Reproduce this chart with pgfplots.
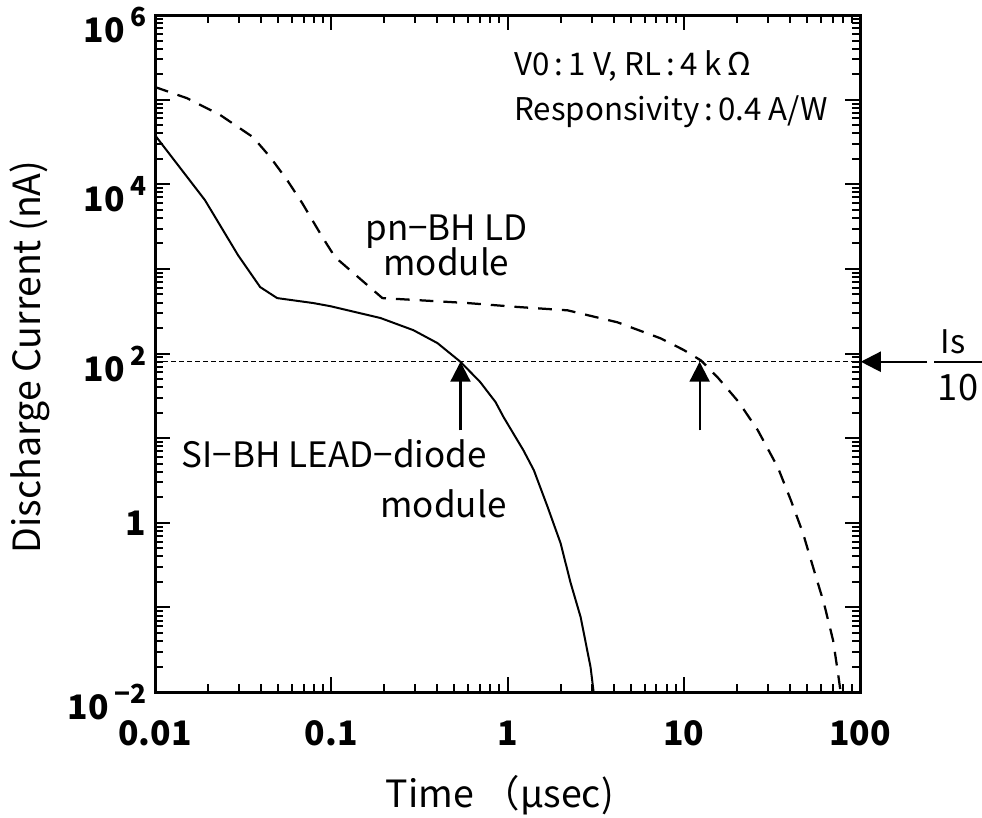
\documentclass[border=0pt]{standalone}
\usepackage{fontspec}
\setmainfont{Noto Sans CJK JP}
\usepackage{pgfplots}
\pgfplotsset{compat=1.18}
\usetikzlibrary{arrows.meta}

\newcommand\fs[1]{\fontsize{#1}{#1}\selectfont}
% power-of-ten tick label: base below the tick, exponent beside it
\newcommand\pw[1]{\smash{\raisebox{-11pt}{10\,\raisebox{6.4pt}{\fs{10.5}#1}}}}

\begin{document}
\begin{tikzpicture}
\begin{loglogaxis}[
  scale only axis,
  width=282pt, height=270.8pt,
  xmin=0.01, xmax=100, ymin=1e-2, ymax=1e6,
  xtick={0.01,0.1,1,10,100},
  xticklabels={0.01,0.1,1,10,100},
  ytick={1e-2,1e-1,1,10,100,1e3,1e4,1e5,1e6},
  yticklabels={\pw{−2},,1,,\pw{2},,\pw{4},,\pw{6}},
  tick label style={font=\fs{13.5}\bfseries},
  xticklabel style={yshift=-8pt},
  major tick length=6pt, minor tick length=3.3pt,
  every major tick/.append style={line width=0.8pt, black},
  every minor tick/.append style={line width=0.8pt, black},
  axis line style={line width=1.2pt},
  xlabel={Time （μsec)},
  ylabel={Discharge Current (nA)},
  label style={font=\fs{15}},
  xlabel style={at={(axis description cs:0.489,-0.152)}, anchor=center},
  ylabel style={at={(axis description cs:-0.177,0.495)}, anchor=center},
  clip=false,
]
% Is/10 level
\addplot[black, line width=0.5pt, dash pattern=on 2pt off 1.2pt] coordinates {(0.01,80) (100,80)};

% SI-BH LEAD-diode module
\addplot[black, line width=0.8pt] coordinates {
  (0.01,3.8e4) (0.0192,6500) (0.0296,1450) (0.0395,610) (0.0493,452)
  (0.079,395) (0.0986,363) (0.19,263) (0.292,189) (0.40,133) (0.54,80)
  (0.70,46) (0.855,26.7) (0.95,17.7) (1.23,7.2) (1.41,4.19) (1.69,1.53)
  (2.0,0.574) (2.28,0.195) (2.60,0.0766) (2.96,0.0196) (3.08,0.01)
};

% pn-BH LD module
\addplot[black, line width=0.9pt, dash pattern=on 5.5pt off 4pt] coordinates {
  (0.01,1.41e5) (0.0152,1.04e5) (0.0234,6.6e4) (0.036,3.6e4) (0.045,2.1e4)
  (0.0562,1.12e4) (0.0684,6000) (0.089,2380) (0.105,1380) (0.142,800)
  (0.195,452) (0.593,395) (1.14,355) (2.19,324) (4.2,234) (7.4,151)
  (10,110) (12.5,83) (15.6,52) (20.5,26.7) (26.3,12.4) (34.2,4.5)
  (40.5,1.85) (47.5,0.75) (54.8,0.275) (62.4,0.112) (70.3,0.041)
  (75,0.0167) (77.6,0.01)
};

% text
\node[anchor=base west, font=\fs{12.5}] at (axis cs:0.975,1.95e5) {V0\,:\,1 V, RL\,:\,4 k\,Ω};
\node[anchor=base west, font=\fs{12.5}] at (axis cs:0.975,5.74e4) {Responsivity\,:\,0.4 A/W};
\node[anchor=base, font=\fs{14}] at (axis cs:0.45,2190) {pn−BH LD};
\node[anchor=base, font=\fs{14}] at (axis cs:0.45,845) {module};
\node[anchor=base, font=\fs{14}] at (axis cs:0.104,4.54) {SI−BH LEAD−diode};
\node[anchor=base, font=\fs{14}] at (axis cs:0.433,1.16) {module};

% arrows
\draw[line width=0.9pt, -{Triangle[length=8pt,width=8pt]}] (axis cs:0.541,12.4) -- (axis cs:0.541,80);
\draw[line width=0.9pt, -{Triangle[length=8pt,width=8pt]}] (axis cs:12.3,12.4) -- (axis cs:12.3,80);
\draw[line width=0.9pt, -{Triangle[length=8pt,width=8pt]}] (axis cs:240,80) -- (axis cs:101,80);

% Is/10
\node[anchor=base, font=\fs{13}] at (axis cs:337,101) {Is};
\draw[line width=0.7pt] (axis cs:263,80) -- (axis cs:500,80);
\node[anchor=base, font=\fs{14.5}] at (axis cs:360,28.1) {10};

\coordinate (bl) at (rel axis cs:-0.2199,-0.1846);
\coordinate (tr) at (rel axis cs:1.1730,1.0222);
\end{loglogaxis}
\pgfresetboundingbox
\path (bl) rectangle (tr);
\end{tikzpicture}
\end{document}
